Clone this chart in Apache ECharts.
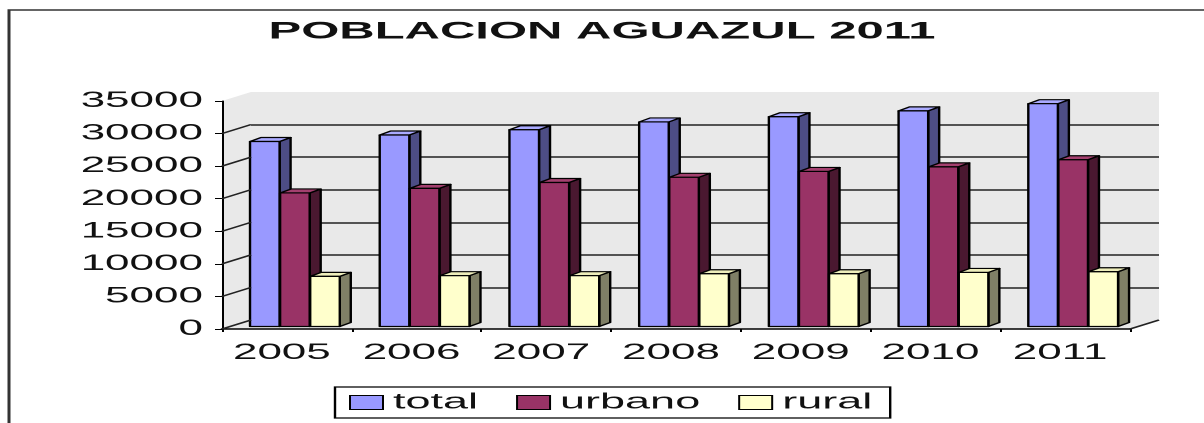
<!DOCTYPE html>
<html>
<head>
<meta charset="utf-8">
<title>POBLACION AGUAZUL 2011</title>
<script src="https://cdn.jsdelivr.net/npm/echarts@6/dist/echarts.min.js"></script>
<style>
html, body { margin: 0; padding: 0; background: #fff; overflow: hidden; }
#wrap { width: 1204px; height: 423px; overflow: hidden; }
/* the original picture is stretched sideways, so draw at half width and scale */
#chart { width: 602px; height: 423px; transform: scaleX(2); transform-origin: 0 0; }
</style>
</head>
<body>
<div id="wrap"><div id="chart"></div></div>
<script>
var years  = ['2005', '2006', '2007', '2008', '2009', '2010', '2011'];
var total  = [28400, 29400, 30200, 31400, 32200, 33100, 34200];
var urbano = [20500, 21200, 22100, 22900, 23800, 24500, 25600];
var rural  = [7700, 7800, 7800, 8100, 8100, 8300, 8400];
var seriesNames = ['total', 'urbano', 'rural'];
var yTicks = [0, 5000, 10000, 15000, 20000, 25000, 30000, 35000];

var FONT = 'Liberation Sans, Arial, sans-serif';

// front plane / back wall
var G_LEFT = 111, G_TOP = 101, G_W = 454, G_H = 228;
var DEPTH_X = 14.5, DEPTH_Y = -9;
var WALL = '#e9e9e9';

// 3d bar faces
var DX = 5.5, DY = -4, LIFT = 2.5;
var faceColors = [
    {front: '#9999ff', side: '#4d4d85', top: '#aaaaff'},
    {front: '#993366', side: '#4a1830', top: '#a4406f'},
    {front: '#ffffcc', side: '#7f7f66', top: '#eeeebb'}
];

function faceStyle(fill) {
    return {fill: fill, stroke: '#000', lineWidth: 1.2, lineJoin: 'round'};
}

function renderBar3d(params, api) {
    var k = params.seriesIndex;
    var cat = api.value(0);
    var top = api.coord([cat, api.value(1)]);
    var bottom = api.coord([cat, 0]);
    var band = api.size([1, 0])[0];
    var w = band * 0.228;
    var x = top[0] - band / 2 + band * (0.216 + 0.232 * k);
    var y0 = top[1] - LIFT;
    var y1 = bottom[1] - LIFT;
    var col = faceColors[k];
    return {
        type: 'group',
        children: [
            {type: 'polygon', shape: {points: [[x + w, y0], [x + w + DX, y0 + DY], [x + w + DX, y1 + DY], [x + w, y1]]}, style: faceStyle(col.side)},
            {type: 'polygon', shape: {points: [[x, y0], [x + DX, y0 + DY], [x + w + DX, y0 + DY], [x + w, y0]]}, style: faceStyle(col.top)},
            {type: 'rect', shape: {x: x, y: y0, width: w, height: y1 - y0}, style: faceStyle(col.front)}
        ]
    };
}

function makeData(arr) {
    var out = [];
    for (var i = 0; i < arr.length; i++) {
        out.push([i, arr[i]]);
    }
    return out;
}

var valueLists = [total, urbano, rural];
var seriesList = [];
for (var s = 0; s < seriesNames.length; s++) {
    seriesList.push({
        name: seriesNames[s],
        type: 'custom',
        xAxisIndex: 0,
        yAxisIndex: 0,
        renderItem: renderBar3d,
        encode: {x: 0, y: 1},
        itemStyle: {color: faceColors[s].front, borderColor: '#000', borderWidth: 1},
        data: makeData(valueLists[s])
    });
}

var chart = echarts.init(document.getElementById('chart'), null, {devicePixelRatio: 2});

var option = {
    backgroundColor: '#fff',
    animation: false,
    title: {
        text: 'POBLACION AGUAZUL 2011',
        left: 'center',
        top: 14,
        textStyle: {fontFamily: FONT, fontWeight: 'bold', fontSize: 24.5, color: '#111'}
    },
    legend: {
        data: seriesNames,
        left: 167.5,
        top: 387,
        icon: 'rect',
        itemWidth: 16.5,
        itemHeight: 14,
        itemGap: 19,
        padding: [4, 9, 4, 7],
        borderColor: '#000',
        borderWidth: 1.2,
        itemStyle: {borderColor: '#000', borderWidth: 1},
        textStyle: {fontFamily: FONT, fontSize: 22.5, color: '#111'}
    },
    grid: [
        {left: G_LEFT, top: G_TOP, width: G_W, height: G_H, show: true, backgroundColor: WALL, borderWidth: 0},
        {left: G_LEFT + DEPTH_X, top: G_TOP + DEPTH_Y, width: G_W, height: G_H, show: true, backgroundColor: WALL, borderWidth: 0}
    ],
    xAxis: [
        {
            type: 'category',
            gridIndex: 0,
            data: years,
            axisLine: {lineStyle: {color: '#000', width: 1.5}},
            axisTick: {show: true, length: 3, lineStyle: {color: '#000'}},
            axisLabel: {fontFamily: FONT, fontSize: 22, color: '#111', margin: 13, padding: [0, 5, 0, 0]},
            splitLine: {show: false}
        },
        {
            type: 'category',
            gridIndex: 1,
            data: years,
            show: false
        }
    ],
    yAxis: [
        {
            type: 'value',
            gridIndex: 0,
            min: 0,
            max: 35000,
            interval: 5000,
            axisLine: {show: true, lineStyle: {color: '#000', width: 1}},
            axisTick: {show: true, length: 3.5, lineStyle: {color: '#000'}},
            axisLabel: {
                fontFamily: FONT, fontSize: 22, color: '#111', margin: 9.5,
                formatter: function (v) { return String(v); }
            },
            splitLine: {show: false}
        },
        {
            type: 'value',
            gridIndex: 1,
            min: 0,
            max: 35000,
            interval: 5000,
            axisLine: {show: false},
            axisTick: {show: false},
            axisLabel: {show: false},
            splitLine: {show: true, showMinLine: false, showMaxLine: false, lineStyle: {color: '#222', width: 1.6}}
        }
    ],
    series: seriesList
};

chart.setOption(option);

// side wall edges: frame, wall corners and the tick connectors to the back wall
var gfx = [];
gfx.push({
    type: 'rect', z: -5,
    shape: {x: 4.5, y: 10, width: 1000, height: 1000},
    style: {fill: 'none', stroke: '#333', lineWidth: 1.5}
});
gfx.push({
    type: 'polygon', z: -1, silent: true,
    shape: {points: [[G_LEFT, G_TOP], [G_LEFT + DEPTH_X, G_TOP + DEPTH_Y], [G_LEFT + DEPTH_X, G_TOP]]},
    style: {fill: WALL}
});
gfx.push({
    type: 'polygon', z: -1, silent: true,
    shape: {points: [[G_LEFT + G_W, G_TOP + G_H], [G_LEFT + G_W + DEPTH_X, G_TOP + G_H + DEPTH_Y], [G_LEFT + G_W, G_TOP + G_H + DEPTH_Y]]},
    style: {fill: WALL}
});
for (var t = 0; t < yTicks.length - 1; t++) {
    var py = chart.convertToPixel({yAxisIndex: 0}, yTicks[t]);
    gfx.push({
        type: 'line', z: 5,
        shape: {x1: G_LEFT, y1: py, x2: G_LEFT + DEPTH_X, y2: py + DEPTH_Y},
        style: {stroke: '#222', lineWidth: 1.4}
    });
}
gfx.push({
    type: 'line', z: 5,
    shape: {x1: G_LEFT + G_W, y1: G_TOP + G_H, x2: G_LEFT + G_W + DEPTH_X, y2: G_TOP + G_H + DEPTH_Y},
    style: {stroke: '#222', lineWidth: 1.4}
});
chart.setOption({graphic: gfx});
</script>
</body>
</html>
